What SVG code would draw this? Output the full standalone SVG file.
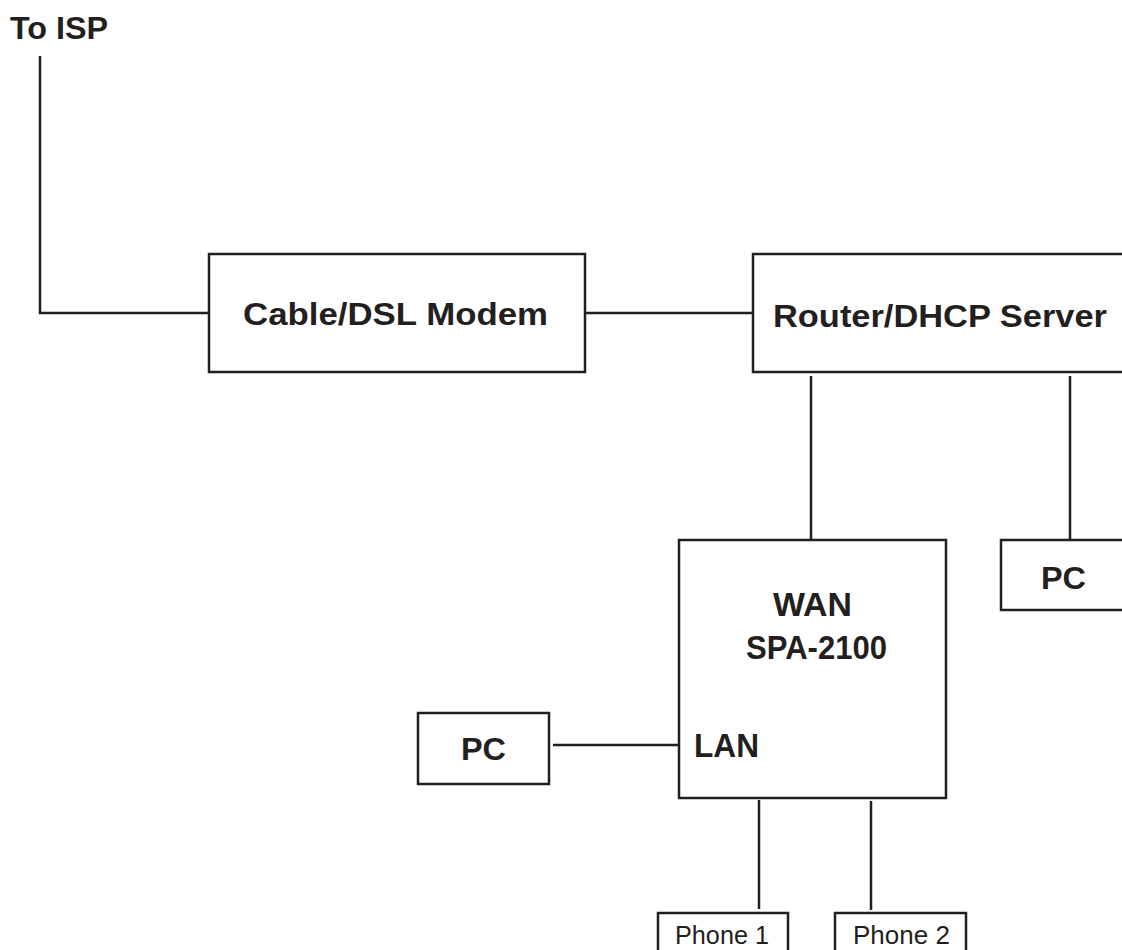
<svg xmlns="http://www.w3.org/2000/svg" width="1122" height="950" viewBox="0 0 1122 950">
<style>
.box{fill:#fff;stroke:#231f20;stroke-width:2.5}
.ln{fill:none;stroke:#231f20;stroke-width:2.5}
.b{font-family:"Liberation Sans",Arial,sans-serif;font-weight:bold;font-size:31px;fill:#231f20}
.big{font-size:33px}
.r{font-family:"Liberation Sans",Arial,sans-serif;font-size:25px;fill:#231f20}
</style>
<rect width="1122" height="950" fill="#fff"/>
<g id="connectors">
<polyline class="ln" points="40,56 40,313 208,313"/>
<line class="ln" x1="585" y1="313" x2="753" y2="313"/>
<line class="ln" x1="811" y1="376" x2="811" y2="540"/>
<line class="ln" x1="1070" y1="376" x2="1070" y2="540"/>
<line class="ln" x1="553" y1="745" x2="679" y2="745"/>
<line class="ln" x1="759" y1="800" x2="759" y2="909"/>
<line class="ln" x1="871" y1="801" x2="871" y2="910"/>
</g>
<g id="isp"><text class="b" x="10" y="39" textLength="98" lengthAdjust="spacingAndGlyphs">To ISP</text></g>
<g id="modem">
<rect class="box" x="209" y="254" width="376" height="118"/>
<text class="b" x="243" y="325" textLength="305" lengthAdjust="spacingAndGlyphs">Cable/DSL Modem</text>
</g>
<g id="router">
<rect class="box" x="753" y="254" width="380" height="118"/>
<text class="b" x="773" y="327" textLength="334" lengthAdjust="spacingAndGlyphs">Router/DHCP Server</text>
</g>
<g id="pc-right">
<rect class="box" x="1001" y="540" width="140" height="70"/>
<text class="b" x="1041" y="589" textLength="45" lengthAdjust="spacingAndGlyphs">PC</text>
</g>
<g id="spa">
<rect class="box" x="679" y="540" width="267" height="258"/>
<text class="b big" x="773" y="616" textLength="79" lengthAdjust="spacingAndGlyphs">WAN</text>
<text class="b big" x="746" y="659" textLength="141" lengthAdjust="spacingAndGlyphs">SPA-2100</text>
<text class="b big" x="694" y="757" textLength="65" lengthAdjust="spacingAndGlyphs">LAN</text>
</g>
<g id="pc-left">
<rect class="box" x="418" y="713" width="131" height="71"/>
<text class="b" x="461" y="760" textLength="45" lengthAdjust="spacingAndGlyphs">PC</text>
</g>
<g id="phone1">
<rect class="box" x="658" y="913" width="130" height="50"/>
<text class="r" x="675" y="944" textLength="94" lengthAdjust="spacingAndGlyphs">Phone 1</text>
</g>
<g id="phone2">
<rect class="box" x="835" y="913" width="131" height="50"/>
<text class="r" x="853" y="944" textLength="97" lengthAdjust="spacingAndGlyphs">Phone 2</text>
</g>
</svg>
